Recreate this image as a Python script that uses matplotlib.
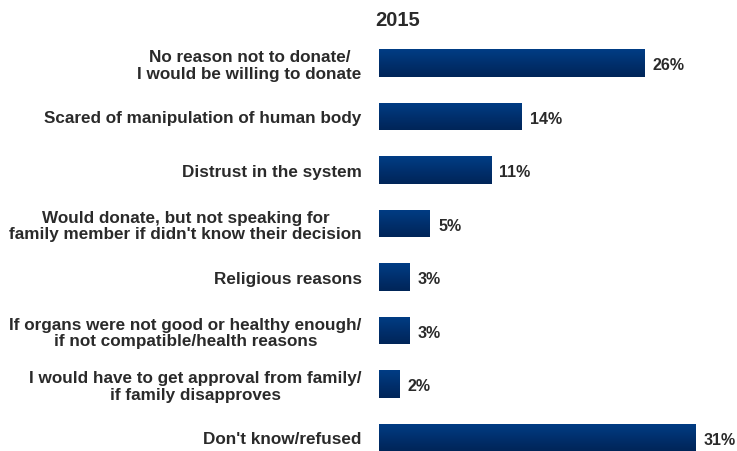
import numpy as np
import matplotlib
matplotlib.use("Agg")
import matplotlib.pyplot as plt

categories = [
    "No reason not to donate/\nI would be willing to donate",
    "Scared of manipulation of human body",
    "Distrust in the system",
    "Would donate, but not speaking for\nfamily member if didn't know their decision",
    "Religious reasons",
    "If organs were not good or healthy enough/\nif not compatible/health reasons",
    "I would have to get approval from family/\nif family disapproves",
    "Don't know/refused",
]
values = [26, 14, 11, 5, 3, 3, 2, 31]
title = "2015"

plt.rcParams['font.family'] = ['Liberation Sans', 'DejaVu Sans']

W, H = 737, 452
fig = plt.figure(figsize=(W / 100, H / 100), dpi=100)
# axes placed by pixel: left edge of bars at x=379, first bar center y=64, spacing 53.5
spacing = 53.5
top = 64 - spacing / 2
bottom = top + spacing * len(values)
ax = fig.add_axes([379 / W, (H - bottom) / H, (W - 379) / W, (bottom - top) / H])

y = np.arange(len(values))
bars = ax.barh(y, values, height=0.52, color='#0b3b7d', edgecolor='none')

# vertical gradient on the bars
grad = np.linspace(0, 1, 64).reshape(-1, 1)
cmap = matplotlib.colors.LinearSegmentedColormap.from_list('g', ['#003d85', '#00306e', '#002558'])
for b in bars:
    x0, y0, w, h = b.get_x(), b.get_y(), b.get_width(), b.get_height()
    im = ax.imshow(grad, cmap=cmap, aspect='auto', extent=[x0, x0 + w, y0 + h, y0],
                   zorder=2, interpolation='bicubic')
    im.set_clip_path(b)

ax.set_xlim(0, (W - 379) / 10.2)
ax.set_ylim(len(values) - 0.5, -0.5)
ax.set_yticks(y)
ax.set_yticklabels(categories, fontsize=12.3, fontweight='bold', color='#2a2a2a',
                   multialignment='center', linespacing=1.1)
ax.tick_params(axis='y', length=0, pad=12.5)
ax.set_xticks([])
for s in ax.spines.values():
    s.set_visible(False)

for yi, v in zip(y, values):
    ax.text(v + 0.8, yi + 0.03, f"{v}%", va='center', ha='left', fontsize=11.5,
            fontweight='bold', color='#2a2a2a')

fig.text(398 / W, 1 - 20 / H, title, ha='center', va='center', fontsize=14.5,
         fontweight='bold', color='#2a2a2a')

fig.savefig('out.png', dpi=100)
